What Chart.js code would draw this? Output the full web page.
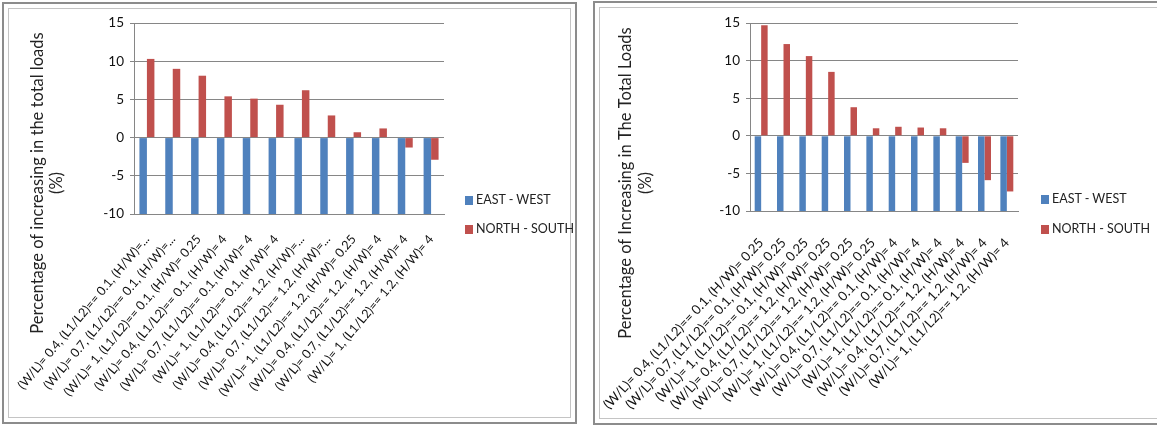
<!DOCTYPE html>
<html>
<head>
<meta charset="utf-8">
<script src="https://cdn.jsdelivr.net/npm/chart.js@4.4.1/dist/chart.umd.min.js"></script>
<style>
  html, body { margin: 0; padding: 0; background: #fff; }
  body { width: 1157px; height: 426px; position: relative; overflow: hidden; font-family: Lato, 'Open Sans', sans-serif; }
  .frame { position: absolute; box-sizing: border-box; border: 2px solid #8c8c8c; box-shadow: inset 0 0 0 4px #fff, inset 0 0 0 5px #c4c4c4; }
  #frameL { left: 2px; top: 2px; width: 575px; height: 422px; }
  #frameR { left: 593px; top: 1px; width: 600px; height: 424px; }
  .box { position: absolute; }
  canvas { display: block; }
  .legend-item { position: absolute; font-size: 12.5px; color: #222; white-space: nowrap; line-height: 14px; }
  .legend-item span { display: inline-block; width: 8px; height: 9px; margin-right: 3px; vertical-align: -1px; }
</style>
</head>
<body>
<div class="frame" id="frameL"></div>
<div class="frame" id="frameR"></div>
<div class="box" style="left:10px;top:6px"><canvas id="chartL" width="562" height="414"></canvas></div>
<div class="box" style="left:600px;top:6px"><canvas id="chartR" width="557" height="414"></canvas></div>
<div id="legends"></div>

<script>
// dados
const seriesNames = ['EAST - WEST', 'NORTH - SOUTH'];
const seriesColors = ['#4F81BD', '#C0504D'];
const yTicks = [-10, -5, 0, 5, 10, 15];

const labelsLeft = [
  '(W/L)= 0.4, (L1/L2)== 0.1, (H/W)=...',
  '(W/L)= 0.7, (L1/L2)== 0.1, (H/W)=...',
  '(W/L)= 1, (L1/L2)== 0.1, (H/W)= 0.25',
  '(W/L)= 0.4, (L1/L2)== 0.1, (H/W)= 4',
  '(W/L)= 0.7, (L1/L2)== 0.1, (H/W)= 4',
  '(W/L)= 1, (L1/L2)== 0.1, (H/W)= 4',
  '(W/L)= 0.4, (L1/L2)== 1.2, (H/W)=...',
  '(W/L)= 0.7, (L1/L2)== 1.2, (H/W)=...',
  '(W/L)= 1, (L1/L2)== 1.2, (H/W)= 0.25',
  '(W/L)= 0.4, (L1/L2)== 1.2, (H/W)= 4',
  '(W/L)= 0.7, (L1/L2)== 1.2, (H/W)= 4',
  '(W/L)= 1, (L1/L2)== 1.2, (H/W)= 4'
];
const eastWestLeft = [-10, -10, -10, -10, -10, -10, -10, -10, -10, -10, -10, -10];
const northSouthLeft = [10.3, 9.0, 8.1, 5.4, 5.1, 4.3, 6.2, 2.9, 0.7, 1.2, -1.3, -2.9];
const yTitleLeft = ['Percentage of increasing in the total loads', '(%)'];

const labelsRight = [
  '(W/L)= 0.4, (L1/L2)== 0.1, (H/W)= 0.25',
  '(W/L)= 0.7, (L1/L2)== 0.1, (H/W)= 0.25',
  '(W/L)= 1, (L1/L2)== 0.1, (H/W)= 0.25',
  '(W/L)= 0.4, (L1/L2)== 1.2, (H/W)= 0.25',
  '(W/L)= 0.7, (L1/L2)== 1.2, (H/W)= 0.25',
  '(W/L)= 1, (L1/L2)== 1.2, (H/W)= 0.25',
  '(W/L)= 0.4, (L1/L2)== 0.1, (H/W)= 4',
  '(W/L)= 0.7, (L1/L2)== 0.1, (H/W)= 4',
  '(W/L)= 1, (L1/L2)== 0.1, (H/W)= 4',
  '(W/L)= 0.4, (L1/L2)== 1.2, (H/W)= 4',
  '(W/L)= 0.7, (L1/L2)== 1.2, (H/W)= 4',
  '(W/L)= 1, (L1/L2)== 1.2, (H/W)= 4'
];
const eastWestRight = [-10, -10, -10, -10, -10, -10, -10, -10, -10, -10, -10, -10];
const northSouthRight = [14.7, 12.2, 10.6, 8.5, 3.8, 1.0, 1.2, 1.1, 1.0, -3.6, -5.9, -7.4];
const yTitleRight = ['Percentage of Increasing in The Total Loads', '(%)'];

// título do eixo Y desenhado à mão (o Excel centraliza na área toda, não só no plot)
const yTitlePlugin = {
  id: 'yTitle',
  afterDraw(chart, args, opts) {
    const ctx = chart.ctx;
    ctx.save();
    ctx.fillStyle = '#222';
    ctx.font = opts.font;
    ctx.textAlign = 'center';
    ctx.textBaseline = 'middle';
    opts.lines.forEach((txt, i) => {
      ctx.save();
      ctx.translate(opts.x[i], opts.y);
      ctx.rotate(-Math.PI / 2);
      ctx.fillText(txt, 0, 0);
      ctx.restore();
    });
    ctx.restore();
  }
};

function buildChart(id, labels, ew, ns, title, lay) {
  const ctx = document.getElementById(id).getContext('2d');
  return new Chart(ctx, {
    type: 'bar',
    data: {
      labels,
      datasets: [
        { label: seriesNames[0], data: ew, backgroundColor: seriesColors[0], categoryPercentage: 0.58, barPercentage: 1 },
        { label: seriesNames[1], data: ns, backgroundColor: seriesColors[1], categoryPercentage: 0.58, barPercentage: 1 }
      ]
    },
    options: {
      responsive: false,
      animation: false,
      layout: { padding: { top: lay.top, right: lay.right, left: 0, bottom: 0 } },
      plugins: {
        legend: { display: false },
        tooltip: { enabled: false },
        yTitle: { lines: title, x: lay.titleX, y: 177, font: '16.5px Lato' }
      },
      scales: {
        x: {
          grid: { display: false },
          border: { color: '#868686' },
          ticks: { autoSkip: false, minRotation: lay.rot, maxRotation: lay.rot, padding: lay.xPad, color: '#111', font: { family: 'Lato', size: lay.xFont } },
          afterFit: s => { s.height = lay.xHeight; s.paddingLeft = 0; s.paddingRight = 0; }
        },
        y: {
          min: -10,
          max: 15,
          afterBuildTicks: s => { s.ticks = yTicks.map(v => ({ value: v })); },
          grid: { color: '#868686', tickLength: 4 },
          border: { color: '#868686' },
          ticks: { color: '#111', padding: 6, font: { family: 'Lato', size: 13.5 } },
          afterFit: s => { s.width = lay.yWidth; s.paddingTop = 0; s.paddingBottom = 0; }
        }
      }
    },
    plugins: [yTitlePlugin]
  });
}

function addLegend(x, ys) {
  const host = document.getElementById('legends');
  seriesNames.forEach((name, i) => {
    const el = document.createElement('div');
    el.className = 'legend-item';
    el.style.left = x + 'px';
    el.style.top = (ys[i] - 7) + 'px';
    el.innerHTML = '<span style="background:' + seriesColors[i] + '"></span>' + name;
    host.appendChild(el);
  });
}

buildChart('chartL', labelsLeft, eastWestLeft, northSouthLeft, yTitleLeft,
  { top: 17, right: 128, yWidth: 124, xHeight: 206, xFont: 12.5, rot: 50, xPad: 10, titleX: [28, 47] });
buildChart('chartR', labelsRight, eastWestRight, northSouthRight, yTitleRight,
  { top: 17, right: 139, yWidth: 150, xHeight: 209, xFont: 13.2, rot: 47, xPad: 16, titleX: [26, 46] });

addLegend(465, [200, 229]);
addLegend(1041, [199, 229]);
</script>
</body>
</html>
